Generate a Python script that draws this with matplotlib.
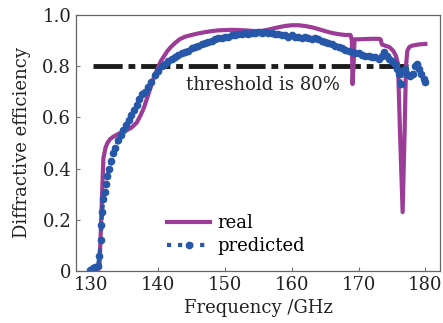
import matplotlib
matplotlib.use('Agg')
import matplotlib.pyplot as plt

plt.rcParams['font.family'] = ['DejaVu Serif']
plt.rcParams['font.size'] = 13

# measured response (real)
real_freq = [129.8, 130.5, 131.2, 131.4, 131.6, 131.8, 132.1, 132.4, 132.8, 133.3,
             134.0, 134.7, 135.3, 136.0, 136.8, 137.4, 137.9, 138.4, 138.9, 139.4,
             139.9, 140.4, 140.9, 141.4, 141.9, 142.5, 143.2, 144.0, 145.0, 146.0,
             147.0, 148.0, 149.0, 150.0, 151.0, 152.0, 153.0, 154.0, 155.0, 156.0,
             157.0, 158.0, 159.0, 160.0, 161.0, 162.0, 163.0, 164.0, 165.0, 166.0,
             167.0, 168.0, 168.8, 169.0, 169.1, 169.25, 169.4, 170.0, 171.0, 172.0,
             173.0, 173.3, 173.5, 174.0, 174.6, 175.2, 175.6, 175.9, 176.2, 176.6,
             176.9, 177.1, 177.3, 177.6, 178.0, 179.0, 180.0]
real_eff = [0.0, 0.005, 0.01, 0.15, 0.30, 0.44, 0.48, 0.50, 0.515, 0.525,
            0.535, 0.545, 0.55, 0.56, 0.58, 0.61, 0.64, 0.68, 0.72, 0.76,
            0.79, 0.82, 0.84, 0.86, 0.875, 0.89, 0.905, 0.915, 0.922, 0.928,
            0.933, 0.937, 0.94, 0.941, 0.942, 0.941, 0.94, 0.938, 0.937, 0.94,
            0.946, 0.952, 0.957, 0.96, 0.96, 0.957, 0.952, 0.945, 0.937, 0.93,
            0.925, 0.922, 0.922, 0.90, 0.73, 0.80, 0.905, 0.905, 0.906, 0.907,
            0.907, 0.905, 0.885, 0.88, 0.875, 0.86, 0.84, 0.81, 0.55, 0.23,
            0.55, 0.80, 0.86, 0.875, 0.88, 0.885, 0.887]

# network prediction
pred_freq = [129.8, 130.2, 130.6, 131.0, 131.2, 131.4, 131.5, 131.6, 131.8, 132.0,
             132.2, 132.4, 132.7, 133.0, 133.3, 133.6, 134.0, 134.4, 134.8, 135.2,
             135.6, 136.0, 136.4, 136.8, 137.2, 137.6, 138.0, 138.5, 139.0, 139.5,
             140.0, 140.5, 141.0, 141.5, 142.0, 142.5, 143.0, 143.5, 144.0, 144.5,
             145.0, 145.5, 146.0, 146.5, 147.0, 147.5, 148.0, 148.5, 149.0, 149.5,
             150.0, 150.5, 151.0, 151.5, 152.0, 152.5, 153.0, 153.5, 154.0, 154.5,
             155.0, 155.5, 156.0, 156.5, 157.0, 157.5, 158.0, 158.5, 159.0, 159.5,
             160.0, 160.5, 161.0, 161.5, 162.0, 162.5, 163.0, 163.5, 164.0, 164.5,
             165.0, 165.5, 166.0, 166.5, 167.0, 167.5, 168.0, 168.5, 169.0, 169.5,
             170.0, 170.5, 171.0, 171.5, 172.0, 172.5, 173.0, 173.5, 173.8, 174.2,
             174.6, 175.0, 175.4, 175.8, 176.1, 176.3, 176.5, 176.9, 177.3, 177.7,
             178.1, 178.4, 178.7, 179.0, 179.4, 179.8, 180.0]
pred_eff = [0.005, 0.01, 0.015, 0.02, 0.06, 0.12, 0.18, 0.23, 0.28, 0.31,
            0.34, 0.37, 0.40, 0.43, 0.46, 0.48, 0.51, 0.53, 0.55, 0.57,
            0.59, 0.61, 0.63, 0.65, 0.67, 0.69, 0.70, 0.72, 0.74, 0.765,
            0.78, 0.80, 0.81, 0.82, 0.83, 0.835, 0.845, 0.85, 0.855, 0.86,
            0.87, 0.875, 0.88, 0.885, 0.89, 0.895, 0.90, 0.905, 0.91, 0.91,
            0.915, 0.915, 0.92, 0.92, 0.925, 0.925, 0.93, 0.925, 0.93, 0.93,
            0.935, 0.93, 0.935, 0.93, 0.93, 0.925, 0.925, 0.92, 0.92, 0.915,
            0.92, 0.915, 0.915, 0.91, 0.915, 0.91, 0.905, 0.91, 0.905, 0.90,
            0.895, 0.89, 0.885, 0.88, 0.875, 0.87, 0.865, 0.86, 0.855, 0.85,
            0.85, 0.845, 0.84, 0.84, 0.835, 0.835, 0.83, 0.84, 0.855, 0.84,
            0.83, 0.82, 0.81, 0.79, 0.77, 0.73, 0.78, 0.79, 0.77, 0.76,
            0.77, 0.80, 0.81, 0.79, 0.77, 0.75, 0.74]

threshold = 0.8
threshold_span = [130.2, 179.6]

xticks = [130, 140, 150, 160, 170, 180]
yticks = [0, 0.2, 0.4, 0.6, 0.8, 1.0]
ytick_labels = ['0', '0.2', '0.4', '0.6', '0.8', '1.0']

fig = plt.figure(figsize=(4.43, 3.23), dpi=100)
ax = fig.add_axes([0.1716, 0.161, 0.8217, 0.7926])

ax.plot(threshold_span, [threshold, threshold], color='#1c1c1c', lw=3.5,
        dashes=(6, 1.2, 1.4, 1.2))
ax.plot(real_freq, real_eff, color='#9c3c97', lw=3, label='real')
ax.plot(pred_freq, pred_eff, color='#2657a8', lw=3, ls=':', marker='o',
        ms=4.5, label='predicted')

ax.text(144.2, 0.725, 'threshold is 80%', ha='left', va='center', color='#222222')

ax.set_xlim(127.7, 182.2)
ax.set_ylim(0, 1.0)
ax.set_xticks(xticks)
ax.set_yticks(yticks)
ax.set_yticklabels(ytick_labels)
ax.tick_params(direction='in', length=3, color='#777777', labelcolor='#222222')
for s in ax.spines.values():
    s.set_color('#666666')
    s.set_linewidth(0.9)

ax.set_xlabel('Frequency /GHz', color='#222222', labelpad=4)
ax.set_ylabel('Diffractive efficiency', color='#222222', labelpad=8)

ax.legend(loc='lower left', bbox_to_anchor=(0.215, 0.012), frameon=False,
          handlelength=2.4, handletextpad=0.4, labelspacing=0.3, borderpad=0.2)

fig.savefig('out.png', dpi=100)
